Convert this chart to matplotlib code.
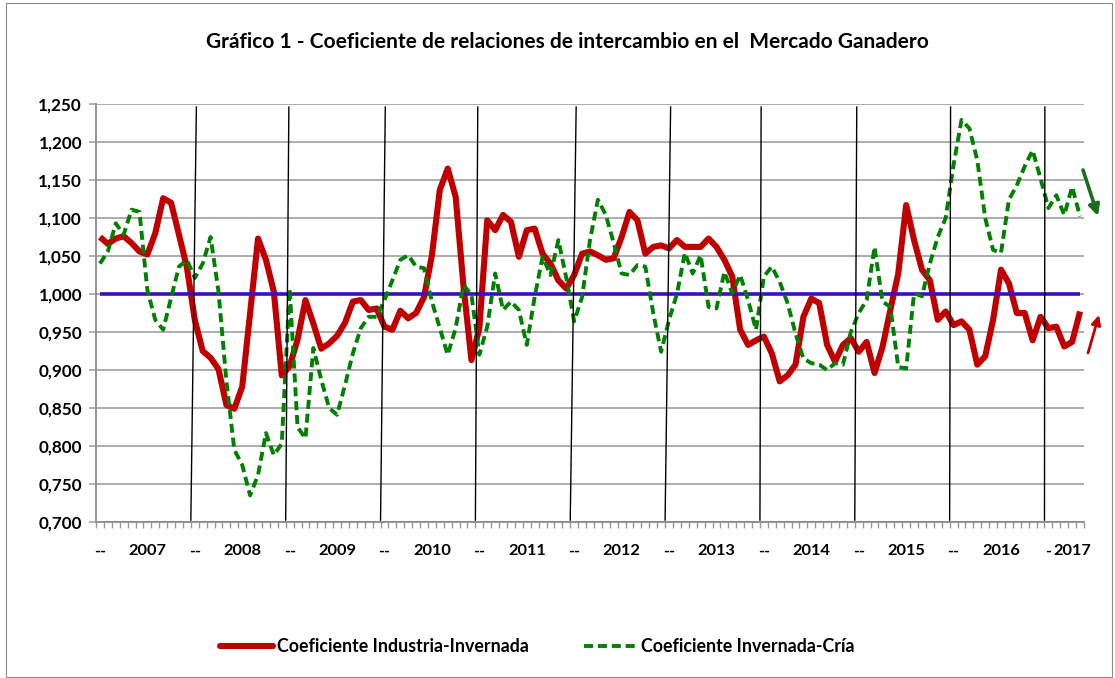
import matplotlib
matplotlib.use("Agg")
import matplotlib.pyplot as plt
import numpy as np
import pandas as pd
from matplotlib.lines import Line2D
from matplotlib.patches import Rectangle

plt.rcParams['font.family'] = ['Lato', 'DejaVu Sans']
plt.rcParams['lines.scale_dashes'] = False

# ---------------- data ----------------
meses = pd.date_range('2007-01-01', '2017-05-01', freq='MS')

industria_invernada = [
    1.075, 1.066, 1.073, 1.076, 1.067, 1.056, 1.052, 1.080, 1.126, 1.120, 1.078, 1.035,  # 2007
    0.966, 0.925, 0.916, 0.901, 0.854, 0.849, 0.878, 0.975, 1.073, 1.045, 1.003, 0.893,  # 2008
    0.905, 0.940, 0.992, 0.961, 0.928, 0.935, 0.945, 0.962, 0.990, 0.992, 0.979, 0.981,  # 2009
    0.957, 0.953, 0.978, 0.968, 0.975, 0.996, 1.051, 1.137, 1.165, 1.128, 1.010, 0.913,  # 2010
    0.955, 1.097, 1.084, 1.104, 1.095, 1.049, 1.084, 1.086, 1.053, 1.040, 1.018, 1.007,  # 2011
    1.025, 1.053, 1.056, 1.051, 1.045, 1.047, 1.075, 1.108, 1.097, 1.053, 1.062, 1.064,  # 2012
    1.060, 1.071, 1.062, 1.062, 1.062, 1.073, 1.062, 1.045, 1.023, 0.953, 0.933, 0.939,  # 2013
    0.944, 0.922, 0.885, 0.893, 0.907, 0.970, 0.994, 0.988, 0.933, 0.911, 0.933, 0.942,  # 2014
    0.924, 0.937, 0.896, 0.930, 0.979, 1.027, 1.117, 1.071, 1.032, 1.018, 0.966, 0.977,  # 2015
    0.959, 0.964, 0.953, 0.907, 0.918, 0.966, 1.032, 1.014, 0.975, 0.975, 0.939, 0.970,  # 2016
    0.955, 0.957, 0.931, 0.937, 0.977,                                                  # 2017
]

invernada_cria = [
    1.040, 1.056, 1.093, 1.078, 1.111, 1.108, 1.005, 0.966, 0.953, 0.995, 1.036, 1.045,  # 2007
    1.021, 1.040, 1.075, 1.003, 0.885, 0.795, 0.775, 0.735, 0.762, 0.817, 0.788, 0.803,  # 2008
    1.007, 0.825, 0.810, 0.929, 0.887, 0.850, 0.841, 0.880, 0.922, 0.955, 0.970, 0.970,  # 2009
    0.992, 1.018, 1.045, 1.051, 1.036, 1.034, 0.990, 0.955, 0.920, 0.955, 1.012, 0.999,  # 2010
    0.920, 0.957, 1.027, 0.979, 0.990, 0.979, 0.933, 0.996, 1.049, 1.025, 1.071, 1.021,  # 2011
    0.964, 0.996, 1.071, 1.124, 1.104, 1.067, 1.027, 1.025, 1.038, 1.036, 0.975, 0.924,  # 2012
    0.966, 1.000, 1.054, 1.027, 1.051, 0.983, 0.981, 1.029, 1.001, 1.025, 0.992, 0.953,  # 2013
    1.023, 1.036, 1.016, 0.988, 0.948, 0.915, 0.909, 0.907, 0.900, 0.909, 0.907, 0.950,  # 2014
    0.975, 0.992, 1.062, 0.990, 0.983, 0.904, 0.902, 1.001, 0.997, 1.040, 1.075, 1.100,  # 2015
    1.170, 1.229, 1.218, 1.176, 1.100, 1.058, 1.054, 1.124, 1.143, 1.168, 1.189, 1.152,  # 2016
    1.113, 1.130, 1.104, 1.141, 1.102,                                                  # 2017
]

paridad = 1.000

tick_meses = ['2007-01', '2007-07', '2008-01', '2008-07', '2009-01', '2009-07',
              '2010-01', '2010-07', '2011-01', '2011-07', '2012-01', '2012-07',
              '2013-01', '2013-07', '2014-01', '2014-07', '2015-01', '2015-07',
              '2016-01', '2016-07', '2017-01', '2017-04']
tick_labels = ['--', '2007', '--', '2008', '--', '2009', '--', '2010', '--', '2011',
               '--', '2012', '--', '2013', '--', '2014', '--', '2015', '--', '2016',
               '-', '2017']

y_ticks = [0.700, 0.750, 0.800, 0.850, 0.900, 0.950, 1.000,
           1.050, 1.100, 1.150, 1.200, 1.250]

titulo = 'Gráfico 1 - Coeficiente de relaciones de intercambio en el  Mercado Ganadero'
serie_roja = 'Coeficiente Industria-Invernada'
serie_verde = 'Coeficiente Invernada-Cría'

# year separator lines: slant of hand-drawn lines (in months, top vs bottom)
separadores = ['2008-01', '2009-01', '2010-01', '2011-01', '2012-01',
               '2013-01', '2014-01', '2015-01', '2016-01', '2017-01']
inclinacion = [0.7, 0.4, 0.6, 0.3, 0.75, 0.7, 0.15, 0.25, 0.12, 0.05]

# ---------------- figure ----------------
W, H = 1115, 678
fig = plt.figure(figsize=(W / 100, H / 100), dpi=100)
ax = fig.add_axes([96 / W, 1 - 522 / H, (1084 - 96) / W, (522 - 104) / H])

x = np.arange(len(meses))
pos = {m.strftime('%Y-%m'): i for i, m in enumerate(meses)}

RED = '#C00000'
GREEN = '#008000'
BLUE = '#3910BA'
GRID = '#A6A6A6'

ax.set_xlim(-0.5, len(meses) - 0.5)
ax.set_ylim(0.700, 1.250)

ax.set_yticks(y_ticks)
ax.set_yticklabels([f'{v:.3f}'.replace('.', ',') for v in y_ticks],
                   fontsize=12.3, fontweight='bold')
ax.yaxis.grid(True, color=GRID, linewidth=1.3)
ax.set_axisbelow(True)

ax.set_xticks([pos[m] for m in tick_meses])
ax.set_xticklabels(tick_labels, fontsize=11.8, fontweight='bold')
ax.set_xticks(np.arange(-0.5, len(meses), 1.0), minor=True)
ax.tick_params(axis='x', which='major', length=0, pad=16)
ax.tick_params(axis='x', which='minor', length=4, width=1, color='#999999', direction='out')
ax.tick_params(axis='y', which='major', length=5, width=1.2, color=GRID, pad=5)

for s in ['top', 'right']:
    ax.spines[s].set_visible(False)
for s in ['left', 'bottom']:
    ax.spines[s].set_color('#8C8C8C')
    ax.spines[s].set_linewidth(1.3)

ax.plot(x, industria_invernada, color=RED, lw=4.4, solid_joinstyle='round',
        solid_capstyle='butt', zorder=3)
ax.hlines(paridad, x[0], x[-1], color=BLUE, lw=2.6, zorder=4)
ax.plot(x, invernada_cria, color=GREEN, lw=2.8, dashes=(6.5, 3.5),
        dash_capstyle='butt', zorder=5)

for m, s in zip(separadores, inclinacion):
    xb = pos[m] - 0.5
    ax.plot([xb, xb + s], [0.7025, 1.246], color='black', lw=1.0, zorder=6,
            clip_on=False)

# arrows (hand-drawn annotations at right side)
ax.annotate('', xy=(1098, H - 216), xytext=(1083, H - 170), xycoords='figure pixels',
            textcoords='figure pixels',
            arrowprops=dict(arrowstyle='-|>', color='#1E6B1E', lw=2.6,
                            mutation_scale=16, shrinkA=0, shrinkB=0))
ax.annotate('', xy=(1099, H - 315), xytext=(1088, H - 353), xycoords='figure pixels',
            textcoords='figure pixels',
            arrowprops=dict(arrowstyle='-|>', color=RED, lw=2.0,
                            mutation_scale=14, shrinkA=0, shrinkB=0))

fig.text(567.5 / W, 1 - 42 / H, titulo, ha='center', va='center',
         fontsize=15, fontweight='bold')

handles = [Line2D([], [], color=RED, lw=4.4, solid_capstyle='round'),
           Line2D([], [], color=GREEN, lw=2.8, dashes=(6.5, 3.5))]
fig.legend(handles, [serie_roja, serie_verde], loc='center',
           bbox_to_anchor=(537 / W, 1 - 647 / H), ncol=2, frameon=False,
           prop={'size': 12.8, 'weight': 'bold'}, handlelength=3.0,
           handletextpad=0.2, columnspacing=3.1)

fig.add_artist(Rectangle((5.5 / W, 1.5 / H), (W - 9) / W, (H - 4) / H,
                         transform=fig.transFigure, fill=False,
                         edgecolor='#8C8C8C', lw=0.8))

fig.savefig('out.png', dpi=100)
